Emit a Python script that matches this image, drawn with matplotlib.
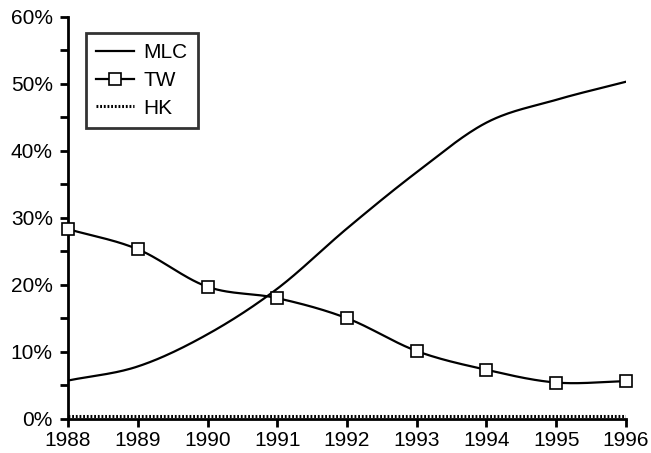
import matplotlib
matplotlib.use('Agg')
import matplotlib.pyplot as plt
import numpy as np
from matplotlib.ticker import MultipleLocator, FuncFormatter

plt.rcParams['font.family'] = ['Liberation Sans', 'DejaVu Sans']

years = [1988, 1989, 1990, 1991, 1992, 1993, 1994, 1995, 1996]
mlc = [5.7, 7.8, 12.6, 19.4, 28.4, 36.8, 44.2, 47.6, 50.3]
tw = [28.3, 25.3, 19.7, 18.0, 15.0, 10.1, 7.3, 5.4, 5.6]
hk = [0.4, 0.4, 0.4, 0.4, 0.4, 0.4, 0.4, 0.4, 0.4]


# smoothed line through the points (catmull-rom, like the spreadsheet "smooth line")
def smooth(x, y, n=30):
    x = np.asarray(x, float)
    y = np.asarray(y, float)
    px = np.concatenate([[2 * x[0] - x[1]], x, [2 * x[-1] - x[-2]]])
    py = np.concatenate([[2 * y[0] - y[1]], y, [2 * y[-1] - y[-2]]])
    xs, ys = [], []
    t = np.linspace(0, 1, n)
    for i in range(1, len(px) - 2):
        for arr, p in ((xs, px), (ys, py)):
            p0, p1, p2, p3 = p[i - 1], p[i], p[i + 1], p[i + 2]
            arr.extend(0.5 * ((2 * p1) + (-p0 + p2) * t
                              + (2 * p0 - 5 * p1 + 4 * p2 - p3) * t ** 2
                              + (-p0 + 3 * p1 - 3 * p2 + p3) * t ** 3))
    return np.array(xs), np.array(ys)


fig = plt.figure(figsize=(6.51, 4.53), dpi=100)
ax = fig.add_axes([0.1045, 0.0757, 0.857, 0.8873])

sx, sy = smooth(years, mlc)
ax.plot(sx, sy, color='black', lw=1.6, label='MLC')

sx, sy = smooth(years, tw)
ax.plot(sx, sy, color='black', lw=1.6, zorder=2)
ax.plot(years, tw, ls='none', marker='s', ms=9, mfc='white', mec='black', mew=1.2,
        zorder=3, clip_on=False)
ax.plot([], [], color='black', lw=1.6, marker='s', ms=9, mfc='white', mec='black', mew=1.2, label='TW')

ax.plot(years, hk, color='black', lw=2.2, ls=(0, (0.6, 0.6)), label='HK')

ax.set_xlim(1988, 1996)
ax.set_ylim(0, 60)
ax.set_xticks(years)
ax.yaxis.set_major_locator(MultipleLocator(10))
ax.yaxis.set_minor_locator(MultipleLocator(5))
ax.yaxis.set_major_formatter(FuncFormatter(lambda v, p: f"{v:.0f}%"))

for s in ['top', 'right']:
    ax.spines[s].set_visible(False)
for s in ['left', 'bottom']:
    ax.spines[s].set_linewidth(2)
ax.tick_params(axis='both', which='major', direction='out', length=6, width=2, labelsize=15)
ax.tick_params(axis='x', pad=3)
ax.tick_params(axis='y', pad=5)
ax.tick_params(axis='y', which='minor', direction='out', length=6, width=2)

leg = ax.legend(loc='upper left', bbox_to_anchor=(0.032, 0.96), frameon=True, fancybox=False,
                edgecolor='black', fontsize=15, handlelength=1.8, handletextpad=0.45,
                borderpad=0.5, labelspacing=0.42, borderaxespad=0)
leg.get_frame().set_linewidth(2)

plt.savefig('out.png', dpi=100)
